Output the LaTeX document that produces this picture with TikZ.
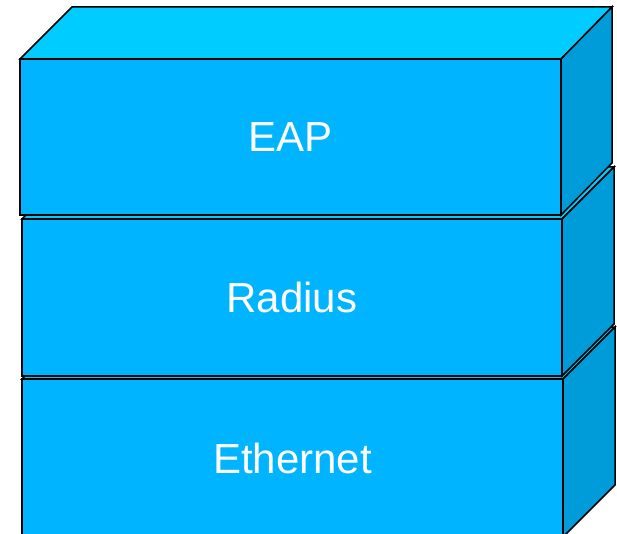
\documentclass[tikz,border=0pt]{standalone}
\usepackage{fontspec}
\setmainfont{Liberation Sans}
\usetikzlibrary{calc}
\definecolor{frontblue}{RGB}{0,180,255}
\definecolor{topblue}{RGB}{0,204,255}
\definecolor{sideblue}{RGB}{0,156,217}
\begin{document}
\begin{tikzpicture}[x=1pt,y=-1pt,
		face/.style={draw=black,line width=1.5pt,line join=miter},
		layertext/.style={text=white,font=\fontsize{42}{50}\selectfont}]
			\useasboundingbox(0,0)rectangle(617,534);
			\clip(0,0)rectangle(617,534);
			% Ethernet
			\coordinate(e1)at(22,379);\coordinate(e2)at(563,379);
			\coordinate(e3)at(563,537);\coordinate(e4)at(22,537);
			\coordinate(e5)at(74,327);\coordinate(e6)at(615,327);\coordinate(e7)at(615,485);
			\filldraw[face,fill=topblue](e1)--(e5)--(e6)--(e2)--cycle;
			\filldraw[face,fill=sideblue](e2)--(e6)--(e7)--(e3)--cycle;
			\filldraw[face,fill=frontblue](e1)--(e2)--(e3)--(e4)--cycle;
			\node[layertext](ethernet)at($(e1)!.5!(e3)$){Ethernet};
			% Radius
			\coordinate(r1)at(22,219);\coordinate(r2)at(562,219);
			\coordinate(r3)at(562,376);\coordinate(r4)at(22,376);
			\coordinate(r5)at(74,167);\coordinate(r6)at(614,167);\coordinate(r7)at(614,324);
			\filldraw[face,fill=topblue](r1)--(r5)--(r6)--(r2)--cycle;
			\filldraw[face,fill=sideblue](r2)--(r6)--(r7)--(r3)--cycle;
			\filldraw[face,fill=frontblue](r1)--(r2)--(r3)--(r4)--cycle;
			\node[layertext](radius)at($(r1)!.5!(r3)$){Radius};
			% EAP
			\coordinate(a1)at(20,59);\coordinate(a2)at(561,59);
			\coordinate(a3)at(561,215);\coordinate(a4)at(20,215);
			\coordinate(a5)at(72,7);\coordinate(a6)at(612,7);\coordinate(a7)at(612,163);
			\filldraw[face,fill=topblue](a1)--(a5)--(a6)--(a2)--cycle;
			\filldraw[face,fill=sideblue](a2)--(a6)--(a7)--(a3)--cycle;
			\filldraw[face,fill=frontblue](a1)--(a2)--(a3)--(a4)--cycle;
			\node[layertext](eap)at($(a1)!.5!(a3)$){EAP};
		\end{tikzpicture}
\end{document}
